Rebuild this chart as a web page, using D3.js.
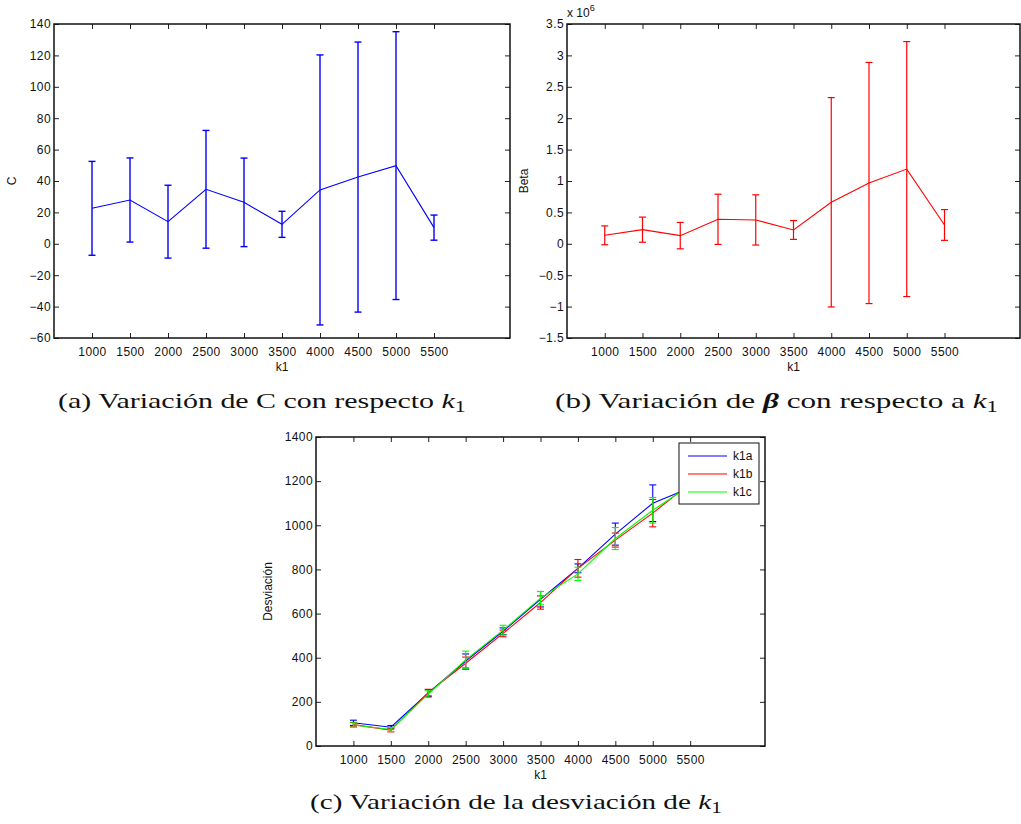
<!DOCTYPE html>
<html>
<head>
<meta charset="utf-8">
<script src="https://cdn.jsdelivr.net/npm/d3@7"></script>
<style>
  html, body { margin: 0; padding: 0; background: #fff; }
  svg { display: block; }
  .tick text { font-family: "Liberation Sans", Arial, sans-serif; font-size: 12px; fill: #111; letter-spacing: 0.4px; }
  .lab { font-family: "Liberation Sans", Arial, sans-serif; font-size: 12px; fill: #111; }
  .cap { font-family: "Liberation Serif", "DejaVu Serif", serif; font-size: 22px; fill: #111; }
</style>
</head>
<body>
<svg id="fig" width="1021" height="824"></svg>
<script>
// k1 values shared by all three panels
const k1 = [1000, 1500, 2000, 2500, 3000, 3500, 4000, 4500, 5000, 5500];
const xTicks = [1000, 1500, 2000, 2500, 3000, 3500, 4000, 4500, 5000, 5500];

// Panel (a): C with its error half-widths
const cMean = [22.6, 27.9, 14.1, 34.7, 26.4, 12.4, 34.3, 42.5, 49.8, 10.3];
const cErr  = [29.9, 26.8, 23.2, 37.5, 28.2, 8.3, 86.0, 86.0, 85.3, 8.0];
const cTicks = [-60, -40, -20, 0, 20, 40, 60, 80, 100, 120, 140];

// Panel (b): Beta (x 10^6) with its error half-widths
const betaMean = [0.135, 0.225, 0.130, 0.390, 0.380, 0.220, 0.661, 0.968, 1.190, 0.300];
const betaErr  = [0.150, 0.200, 0.210, 0.400, 0.400, 0.150, 1.667, 1.920, 2.030, 0.245];
const betaTicks = [-1.5, -1, -0.5, 0, 0.5, 1, 1.5, 2, 2.5, 3, 3.5];

// Panel (c): deviation for three runs
const devA = [105, 85, 240, 385, 520, 665, 805, 960, 1100, 1170];
const devAErr = [12, 8, 15, 32, 15, 35, 20, 50, 83, 50];
const devB = [97, 72, 242, 375, 510, 650, 805, 933, 1055, 1190];
const devBErr = [10, 8, 15, 28, 15, 30, 40, 32, 62, 50];
const devC = [95, 75, 235, 390, 525, 670, 780, 940, 1068, 1180];
const devCErr = [10, 9, 15, 40, 22, 30, 30, 50, 58, 50];
const devTicks = [0, 200, 400, 600, 800, 1000, 1200, 1400];
const devNames = ["k1a", "k1b", "k1c"];
const devColors = ["#0000ff", "#ff0000", "#00ff00"];

const svg = d3.select("#fig");
svg.append("rect").attr("width", 1021).attr("height", 824).attr("fill", "#fff");

const fmt = v => (v < 0 ? "\u2212" + Math.abs(v) : String(v));

function panel(box, yDomain, yTicks, ylabel) {
  const g = svg.append("g");
  const x = d3.scaleLinear().domain([500, 6500]).range([box.x0, box.x1]);
  const y = d3.scaleLinear().domain(yDomain).range([box.y1, box.y0]);
  const tl = 5;
  // bottom axis with labels, plus mirrored ticks on the other sides
  g.append("g").attr("transform", `translate(0,${box.y1})`)
    .call(d3.axisBottom(x).tickValues(xTicks).tickSizeInner(-tl).tickSizeOuter(0).tickPadding(9).tickFormat(d3.format("d")));
  g.append("g").attr("transform", `translate(0,${box.y0})`)
    .call(d3.axisTop(x).tickValues(xTicks).tickSizeInner(-tl).tickSizeOuter(0).tickFormat(""));
  g.append("g").attr("transform", `translate(${box.x0},0)`)
    .call(d3.axisLeft(y).tickValues(yTicks).tickSizeInner(-tl).tickSizeOuter(0).tickPadding(3).tickFormat(fmt));
  g.append("g").attr("transform", `translate(${box.x1},0)`)
    .call(d3.axisRight(y).tickValues(yTicks).tickSizeInner(-tl).tickSizeOuter(0).tickFormat(""));
  g.selectAll(".domain").remove();
  g.selectAll(".tick line").attr("stroke", "#222").attr("stroke-width", 1);
  g.append("rect").attr("x", box.x0).attr("y", box.y0)
    .attr("width", box.x1 - box.x0).attr("height", box.y1 - box.y0)
    .attr("fill", "none").attr("stroke", "#111").attr("stroke-width", 1.5);
  g.append("text").attr("class", "lab").attr("x", (box.x0 + box.x1) / 2).attr("y", box.y1 + 33)
    .attr("text-anchor", "middle").text("k1");
  g.append("text").attr("class", "lab")
    .attr("transform", `translate(${box.ylx},${(box.y0 + box.y1) / 2}) rotate(-90)`)
    .attr("text-anchor", "middle").text(ylabel);
  return { g, x, y };
}

function errSeries(p, means, errs, color, capW, w) {
  const s = p.g.append("g");
  s.append("path").datum(means)
    .attr("d", d3.line().x((d, i) => p.x(k1[i])).y(d => p.y(d)))
    .attr("fill", "none").attr("stroke", color).attr("stroke-width", 1.1);
  const bars = s.selectAll(".eb").data(means).enter().append("g");
  bars.append("line")
    .attr("x1", (d, i) => p.x(k1[i])).attr("x2", (d, i) => p.x(k1[i]))
    .attr("y1", (d, i) => p.y(d - errs[i])).attr("y2", (d, i) => p.y(d + errs[i]))
    .attr("stroke", color).attr("stroke-width", w);
  [-1, 1].forEach(sg => {
    bars.append("line")
      .attr("x1", (d, i) => p.x(k1[i]) - capW).attr("x2", (d, i) => p.x(k1[i]) + capW)
      .attr("y1", (d, i) => p.y(d + sg * errs[i])).attr("y2", (d, i) => p.y(d + sg * errs[i]))
      .attr("stroke", color).attr("stroke-width", w);
  });
}

// (a)
const pa = panel({ x0: 54, x1: 510, y0: 24, y1: 338, ylx: 16 }, [-60, 140], cTicks, "C");
errSeries(pa, cMean, cErr, "#0000ff", 3.5, 1.4);

// (b)
const pb = panel({ x0: 567, x1: 1020, y0: 24, y1: 338, ylx: 528 }, [-1.5, 3.5], betaTicks, "Beta");
errSeries(pb, betaMean, betaErr, "#ff0000", 3.5, 1.2);
const mult = pb.g.append("text").attr("class", "lab").attr("x", 567).attr("y", 17);
mult.append("tspan").text("x 10");
mult.append("tspan").attr("dy", -6).attr("font-size", 9).text("6");

// (c)
const pc = panel({ x0: 316, x1: 765, y0: 437, y1: 746, ylx: 272 }, [0, 1400], devTicks, "Desviaci\u00f3n");
[[devA, devAErr], [devB, devBErr], [devC, devCErr]].forEach((s, i) =>
  errSeries(pc, s[0], s[1], devColors[i], 3.5, 1.1));

// legend
const lg = pc.g.append("g").attr("transform", "translate(679,443)");
lg.append("rect").attr("width", 80).attr("height", 61).attr("fill", "#fff")
  .attr("stroke", "#111").attr("stroke-width", 1);
devNames.forEach((n, i) => {
  const yy = 13 + i * 18;
  lg.append("line").attr("x1", 9).attr("x2", 48).attr("y1", yy).attr("y2", yy)
    .attr("stroke", devColors[i]).attr("stroke-width", 1.1);
  lg.append("text").attr("class", "lab").attr("x", 54).attr("y", yy + 4).text(n);
});

// captions: stretched horizontally to span [x0, x1]
function caption(x0, x1, yb, parts) {
  const g = svg.append("g");
  const t = g.append("text").attr("class", "cap").attr("x", 0).attr("y", 0);
  parts.forEach(p => {
    const s = t.append("tspan").text(p.t);
    if (p.it) s.attr("font-style", "italic");
    if (p.b) s.attr("font-weight", "bold");
    if (p.sub) s.attr("font-size", 16).attr("dy", 4);
  });
  const w = t.node().getComputedTextLength();
  g.attr("transform", `translate(${x0},${yb}) scale(${(x1 - x0) / w},1)`);
}
caption(58, 466, 408, [{ t: "(a) Variaci\u00f3n de C con respecto " }, { t: "k", it: true }, { t: "1", sub: true }]);
caption(555, 998, 408, [{ t: "(b) Variaci\u00f3n de " }, { t: "\u03b2", it: true, b: true }, { t: " con respecto a " }, { t: "k", it: true }, { t: "1", sub: true }]);
caption(310, 722, 809, [{ t: "(c) Variaci\u00f3n de la desviaci\u00f3n de " }, { t: "k", it: true }, { t: "1", sub: true }]);
</script>
</body>
</html>
